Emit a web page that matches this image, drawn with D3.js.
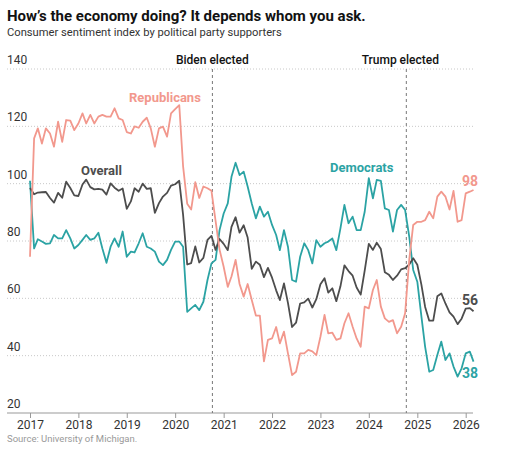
<!DOCTYPE html>
<html>
<head>
<meta charset="utf-8">
<script src="https://cdn.jsdelivr.net/npm/d3@7"></script>
<style>
  body { margin: 0; background: #fff; }
  svg { font-family: Roboto, "Liberation Sans", sans-serif; }
</style>
</head>
<body>
<svg id="chart" width="506" height="452"></svg>
<script>
// monthly readings, Jan 2017 .. Mar 2026
const startMonth = new Date(2017, 0, 1);

const overall = [
  98.5, 96.3, 96.9, 97.0, 97.1, 95.0, 93.4, 96.8, 95.1, 100.7, 98.5, 95.9,
  95.7, 99.7, 101.4, 98.8, 98.0, 98.2, 97.9, 96.2, 100.1, 98.6, 97.5, 98.3,
  91.2, 93.8, 98.4, 97.2, 100.0, 98.2, 98.4, 89.8, 93.2, 95.5, 96.8, 99.3,
  99.8, 101.0, 89.1, 71.8, 72.3, 78.1, 72.5, 74.1, 80.4, 81.8, 76.9, 80.7,
  79.0, 76.8, 84.9, 88.3, 82.9, 85.5, 81.2, 70.3, 72.8, 71.7, 67.4, 70.6,
  67.2, 62.8, 59.4, 65.2, 58.4, 50.0, 51.5, 58.2, 58.6, 59.9, 56.8, 59.7,
  64.9, 67.0, 62.0, 63.5, 59.0, 64.2, 71.5, 69.5, 67.9, 63.8, 61.3, 69.7,
  79.0, 76.9, 79.4, 77.2, 69.1, 68.2, 66.4, 67.9, 70.1, 70.5, 71.8, 74.0,
  71.7, 64.7, 57.0, 52.2, 52.2, 60.7, 61.7, 58.2, 55.1, 53.6, 51.0, 52.9,
  56.4, 56.6, 55.5
];

const republicans = [
  74.5, 115.8, 119.3, 114, 119.3, 117.5, 112.9, 121.6, 114.6, 122.2, 122, 118.7,
  121, 124.5, 121, 124, 121, 123.4, 124, 123.4, 123.4, 126.3, 122.8, 122.2,
  118, 117.5, 120, 119.5, 121.6, 123, 119.3, 112.9, 119.3, 119.9, 116.4, 124.5,
  126, 127.4, 106, 93, 91, 100.5, 95, 99, 98.4, 97.5, 87, 77,
  71, 64, 67.6, 73.4, 65, 60.6, 65, 59.4, 54, 54, 38, 45.5,
  46, 50, 44.3, 48.4, 40.8, 33.2, 34.4, 40.8, 40.8, 42, 41.5, 40.2,
  46.6, 54.2, 47.8, 48, 45.5, 46, 51.3, 54.8, 50.1, 46, 43.1, 57.1,
  56.5, 62.9, 66.4, 57.1, 53, 51.8, 52.4, 47.8, 50.1, 54.8, 73.4, 85.6,
  86.7, 86.7, 87.3, 90.2, 87.9, 95.5, 97.2, 95.5, 91, 97.5, 86.7, 87.3,
  96.6, 97.2, 97.8
];

const democrats = [
  101, 77.4, 80.6, 79.8, 79, 79.2, 82.1, 80.9, 80.9, 83.8, 80.9, 77.4,
  78.6, 80.4, 82.1, 80.4, 80.9, 82.9, 77.4, 72.4, 78, 80.9, 78, 83.3,
  74.5, 76.3, 76, 79.2, 82.7, 78, 77.4, 76.3, 72.8, 71.6, 73.4, 76.9,
  79.8, 79.8, 78, 55.3, 56.5, 57.7, 55.9, 58.8, 66.4, 72.2, 73.4, 83.8,
  89.6, 93.1, 102.4, 107.3, 103, 104.2, 99, 93.1, 87.9, 92, 88.5, 90.2,
  85.6, 82.1, 76.8, 83.8, 78, 66.4, 65.8, 74.5, 79.2, 76.8, 72.2, 80.3,
  78, 79.2, 79.8, 80.9, 76.8, 84.4, 92.6, 86.2, 88.5, 83.8, 83.8, 90.2,
  101.9, 94.9, 101.3, 101, 91.4, 90.8, 83.3, 90.8, 92.6, 90.8, 81.5, 69.9,
  65.8, 53.6, 43.1, 34.4, 35, 40.2, 44.9, 38.5, 40.8, 36.2, 32.7, 35.6,
  40.8, 41.4, 37.9
];

const yTicks = [20, 40, 60, 80, 100, 120, 140];
const xYears = [2017, 2018, 2019, 2020, 2021, 2022, 2023, 2024, 2025, 2026];

const events = [
  { label: "Biden elected", date: new Date(2020, 9, 8), anchor: "middle", dx: 0 },
  { label: "Trump elected", date: new Date(2024, 9, 10), anchor: "middle", dx: -6 }
];

const colors = {
  republicans: "#f2988d",
  democrats: "#2ba3a4",
  overall: "#4d4d4d"
};

const svg = d3.select("#chart");

const x = d3.scaleTime()
  .domain([new Date(2017, 0, 1), new Date(2026, 0, 1)])
  .range([30, 465.7]);

const y = d3.scaleLinear()
  .domain([20, 140])
  .range([413, 69]);

// title block
svg.append("text")
  .attr("x", 7).attr("y", 21)
  .attr("font-size", "15px").attr("font-weight", "bold")
  .attr("fill", "#121212")
  .text("How\u2019s the economy doing? It depends whom you ask.");

svg.append("text")
  .attr("x", 7).attr("y", 36)
  .attr("font-size", "11.2px")
  .attr("fill", "#333")
  .text("Consumer sentiment index by political party supporters");

// grid + y labels
const grid = svg.append("g");
yTicks.filter(d => d > 20).forEach(t => {
  grid.append("line")
    .attr("x1", 7).attr("x2", 473)
    .attr("y1", y(t)).attr("y2", y(t))
    .attr("stroke", "#c8c8c8")
    .attr("stroke-dasharray", "1,2");
});
yTicks.forEach(t => {
  grid.append("text")
    .attr("x", 7).attr("y", y(t) - 5)
    .attr("font-size", "12px")
    .attr("fill", "#333")
    .text(t);
});

// x axis
const xAxis = d3.axisBottom(x)
  .tickValues(xYears.map(yr => new Date(yr, 0, 1)))
  .tickFormat(d3.timeFormat("%Y"))
  .tickSize(5)
  .tickPadding(2);

const ax = svg.append("g")
  .attr("transform", `translate(0,${y(20)})`)
  .call(xAxis);
ax.select(".domain").remove();
ax.selectAll(".tick line").attr("stroke", "#999");
ax.selectAll(".tick text")
  .attr("font-size", "12px")
  .attr("fill", "#333")
  .attr("font-family", "Roboto, sans-serif");
ax.append("line")
  .attr("x1", 7).attr("x2", 473)
  .attr("y1", 0).attr("y2", 0)
  .attr("stroke", "#999");

// election markers
events.forEach(e => {
  svg.append("line")
    .attr("x1", x(e.date)).attr("x2", x(e.date))
    .attr("y1", 69).attr("y2", y(20))
    .attr("stroke", "#777")
    .attr("stroke-width", 1)
    .attr("stroke-dasharray", "3,3");
  svg.append("text")
    .attr("x", x(e.date) + e.dx).attr("y", 64)
    .attr("text-anchor", e.anchor)
    .attr("font-size", "12px")
    .attr("font-weight", 500)
    .attr("fill", "#121212")
    .text(e.label);
});

// lines
const monthDate = i => d3.timeMonth.offset(startMonth, i);
const line = d3.line()
  .x((d, i) => x(monthDate(i)))
  .y(d => y(d));

const series = [
  { name: "democrats", values: democrats },
  { name: "overall", values: overall },
  { name: "republicans", values: republicans }
];

series.forEach(s => {
  svg.append("path")
    .datum(s.values)
    .attr("fill", "none")
    .attr("stroke", colors[s.name])
    .attr("stroke-width", 1.8)
    .attr("stroke-linejoin", "round")
    .attr("d", line);
});

// series labels
const labels = [
  { text: "Republicans", x: 129, y: 102, c: "republicans" },
  { text: "Overall", x: 81, y: 175, c: "overall" },
  { text: "Democrats", x: 330, y: 172, c: "democrats" }
];
labels.forEach(l => {
  svg.append("text")
    .attr("x", l.x).attr("y", l.y)
    .attr("font-size", "13px").attr("font-weight", "bold")
    .attr("fill", colors[l.c])
    .text(l.text);
});

// end values
const lastIdx = overall.length - 1;
[
  { vals: republicans, c: "republicans", dy: -4 },
  { vals: overall, c: "overall", dy: -6 },
  { vals: democrats, c: "democrats", dy: 16 }
].forEach(s => {
  const v = s.vals[lastIdx];
  svg.append("text")
    .attr("x", 462)
    .attr("y", y(v) + s.dy)
    .attr("font-size", "14px").attr("font-weight", "bold")
    .attr("fill", colors[s.c])
    .text(Math.round(v));
});

// source
svg.append("text")
  .attr("x", 7).attr("y", 442)
  .attr("font-size", "9.5px")
  .attr("fill", "#999")
  .text("Source: University of Michigan.");
</script>
</body>
</html>
